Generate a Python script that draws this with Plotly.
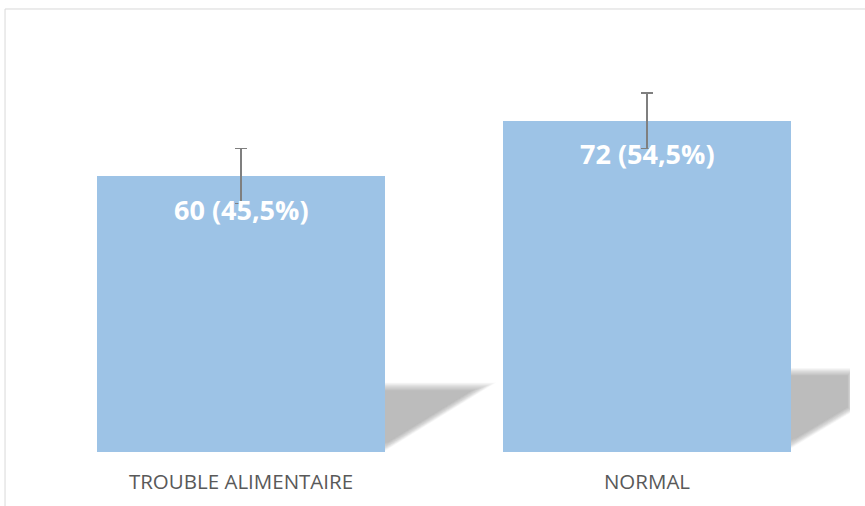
import plotly.graph_objects as go

# Data
categories = ["TROUBLE ALIMENTAIRE", "NORMAL"]
counts = [60, 72]
errors = [6, 6]

total = sum(counts)
percents = [c / total * 100 for c in counts]
labels = [f"{c} ({p:.1f}%)".replace(".", ",") for c, p in zip(counts, percents)]

x_pos = list(range(len(categories)))
bar_width = 0.709
bar_color = "#9DC3E6"

fig = go.Figure()
fig.add_trace(go.Bar(
    x=x_pos,
    y=counts,
    width=bar_width,
    marker=dict(color=bar_color, line=dict(width=0)),
    error_y=dict(type="data", array=errors, visible=True,
                 color="#7f7f7f", thickness=1.5, width=6),
    hoverinfo="skip",
))

# Soft perspective shadows at the right foot of each bar.
# Outline given as (dx from bar's right edge, height) pairs, plus a focus point
# toward which successive layers shrink to fake a blur.
shadow_outlines = [
    [(-0.03, 0.3), (-0.03, 14.4), (0.25, 14.4), (0.0, 0.8)],
    [(-0.03, 0.3), (-0.03, 17.6), (0.148, 17.6), (0.148, 9.2), (0.0, 1.4)],
]
shadow_focus = [(0.05, 8.5), (0.10, 12.0)]
layers = 20
for i, outline in enumerate(shadow_outlines):
    x0 = x_pos[i] + bar_width / 2
    fx, fy = shadow_focus[i]
    for k in range(layers):
        s = 1.12 - k * 0.016
        pts = [(x0 + fx + (dx - fx) * s, fy + (h - fy) * s) for dx, h in outline]
        path = "M " + " L ".join(f"{px:.4f},{py:.3f}" for px, py in pts) + " Z"
        fig.add_shape(type="path", path=path, xref="x", yref="y",
                      fillcolor="rgba(140,140,140,0.033)", line=dict(width=0),
                      layer="below")

# Value labels inside the bars
for xp, v, t in zip(x_pos, counts, labels):
    fig.add_annotation(x=xp, y=v, text=f"<b>{t}</b>", showarrow=False,
                       yanchor="middle", yshift=-33,
                       font=dict(family="Open Sans", size=27, color="white"))

# Chart frame (left and top edges visible)
fig.add_shape(type="line", xref="paper", yref="paper",
              x0=-0.0406, x1=-0.0406, y0=-0.2, y1=1.0498,
              line=dict(color="#d9d9d9", width=1))
fig.add_shape(type="line", xref="paper", yref="paper",
              x0=-0.0406, x1=1.1, y0=1.0498, y1=1.0498,
              line=dict(color="#d9d9d9", width=1))

fig.update_layout(
    width=865, height=506,
    margin=dict(l=38, r=15, t=30, b=54),
    paper_bgcolor="white", plot_bgcolor="white",
    showlegend=False,
    bargap=0,
    xaxis=dict(range=[-0.5, 1.5], tickmode="array", tickvals=x_pos,
               ticktext=categories, showgrid=False, zeroline=False,
               showline=False, ticks="", ticklen=0, ticklabelstandoff=15,
               tickfont=dict(family="Open Sans", size=20.5, color="#595959")),
    yaxis=dict(range=[0, 91.74], showgrid=False, zeroline=False,
               showline=False, showticklabels=False, ticks=""),
)

fig.write_html("out.html")
